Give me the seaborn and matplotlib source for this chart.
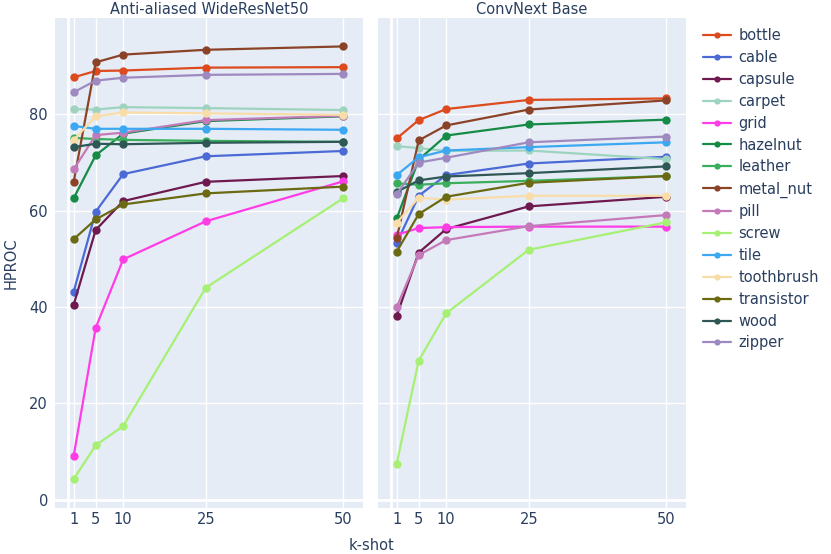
import numpy as np
import pandas as pd
import seaborn as sns
import matplotlib
matplotlib.use('agg')
import matplotlib.pyplot as plt

sns.set_style('darkgrid')
plt.rcParams['font.family'] = ['DejaVu Sans']

shots = [1, 5, 10, 25, 50]
categories = ['bottle', 'cable', 'capsule', 'carpet', 'grid', 'hazelnut', 'leather',
              'metal_nut', 'pill', 'screw', 'tile', 'toothbrush', 'transistor', 'wood', 'zipper']
colors = ['#DC4A1E', '#4B6AD5', '#6E1A4F', '#9ED4BF', '#FF3CE6', '#168B46', '#3AAE5C',
          '#8B4328', '#C47AB8', '#A6F074', '#3DA8F2', '#F8DDA8', '#6B6A12', '#2F5755', '#9E8AC0']

# HPROC per category, k-shot = 1, 5, 10, 25, 50
wrn50 = {
    'bottle':     [87.7, 89.0, 89.1, 89.7, 89.8],
    'cable':      [43.2, 59.8, 67.6, 71.3, 72.4],
    'capsule':    [40.5, 56.0, 62.0, 66.0, 67.2],
    'carpet':     [81.1, 81.0, 81.5, 81.3, 80.9],
    'grid':       [9.1, 35.7, 49.9, 57.8, 66.1],
    'hazelnut':   [62.6, 71.5, 76.0, 78.6, 79.6],
    'leather':    [75.1, 74.9, 74.7, 74.5, 74.3],
    'metal_nut':  [66.0, 90.8, 92.4, 93.4, 94.1],
    'pill':       [68.6, 75.7, 76.2, 78.8, 79.7],
    'screw':      [4.3, 11.3, 15.3, 44.0, 62.6],
    'tile':       [77.6, 77.0, 77.0, 77.0, 76.8],
    'toothbrush': [74.7, 79.6, 80.4, 80.2, 79.9],
    'transistor': [54.1, 58.2, 61.3, 63.6, 65.0],
    'wood':       [73.2, 73.9, 73.8, 74.1, 74.3],
    'zipper':     [84.6, 87.0, 87.6, 88.2, 88.4],
}
convnext = {
    'bottle':     [75.0, 78.8, 81.1, 83.0, 83.3],
    'cable':      [53.3, 63.1, 67.4, 69.8, 71.2],
    'capsule':    [38.2, 51.3, 56.2, 60.9, 62.9],
    'carpet':     [73.4, 73.0, 72.4, 72.5, 70.7],
    'grid':       [55.0, 56.4, 56.6, 56.7, 56.7],
    'hazelnut':   [58.4, 70.6, 75.6, 77.9, 78.9],
    'leather':    [65.7, 65.4, 65.7, 66.2, 67.2],
    'metal_nut':  [54.3, 74.6, 77.7, 81.0, 82.9],
    'pill':       [40.0, 50.8, 53.9, 56.8, 59.1],
    'screw':      [7.5, 28.9, 38.7, 51.9, 57.6],
    'tile':       [67.4, 71.1, 72.5, 73.2, 74.2],
    'toothbrush': [57.5, 62.7, 62.3, 63.1, 63.1],
    'transistor': [51.5, 59.3, 62.9, 65.8, 67.2],
    'wood':       [63.9, 66.3, 67.1, 67.8, 69.2],
    'zipper':     [63.4, 70.0, 71.0, 74.2, 75.4],
}
models = ['Anti-aliased WideResNet50', 'ConvNext Base']
results = [wrn50, convnext]

rows = []
for model, res in zip(models, results):
    for cat in categories:
        for k, v in zip(shots, res[cat]):
            rows.append({'model': model, 'category': cat, 'k-shot': k, 'HPROC': v})
df = pd.DataFrame(rows)
palette = dict(zip(categories, colors))

txt = '#2a3f5f'
fig = plt.figure(figsize=(8.31, 5.54), dpi=100)
W, H = 831, 554
ax1 = fig.add_axes([55 / W, (H - 508) / H, 308 / W, 490 / H])
ax2 = fig.add_axes([378 / W, (H - 508) / H, 308 / W, 490 / H])

for ax, model in zip([ax1, ax2], models):
    ax.set_facecolor('#E5ECF6')
    sns.lineplot(data=df[df.model == model], x='k-shot', y='HPROC', hue='category',
                 hue_order=categories, palette=palette, marker='o', markersize=6,
                 markeredgewidth=0, linewidth=1.6, ax=ax, legend=False)
    ax.set_xlim(-2.4, 53.6)
    ax.set_ylim(-1.7, 100)
    ax.set_xticks(shots)
    ax.set_yticks([0, 20, 40, 60, 80])
    ax.grid(True, color='white', linewidth=1)
    ax.axvline(0, color='white', linewidth=2, zorder=0.9)
    ax.axhline(0, color='white', linewidth=2, zorder=0.9)
    for s in ax.spines.values():
        s.set_visible(False)
    ax.tick_params(length=0, labelsize=10.5, colors=txt, pad=3)
    ax.set_xlabel('')
    ax.set_ylabel('')
    ax.set_title(model, fontsize=10.5, color=txt, pad=3)

ax2.set_yticklabels([])
ax1.tick_params(axis='y', pad=5)
ax1.set_ylabel('HPROC', fontsize=10.5, color=txt, labelpad=8)
fig.text(371 / W, 1 - 545 / H, 'k-shot', fontsize=10.5, color=txt, ha='center', va='center')

handles = [plt.Line2D([], [], color=c, marker='o', markersize=4.5, markeredgewidth=0, linewidth=1.6)
           for c in colors]
leg = fig.legend(handles, categories, loc='upper left', bbox_to_anchor=(697 / W, 1 - 22.5 / H),
                 frameon=False, fontsize=10.5, handlelength=1.9, handletextpad=0.55,
                 labelspacing=0.47, borderaxespad=0)
for t in leg.get_texts():
    t.set_color(txt)

fig.savefig('out.png', dpi=100)
